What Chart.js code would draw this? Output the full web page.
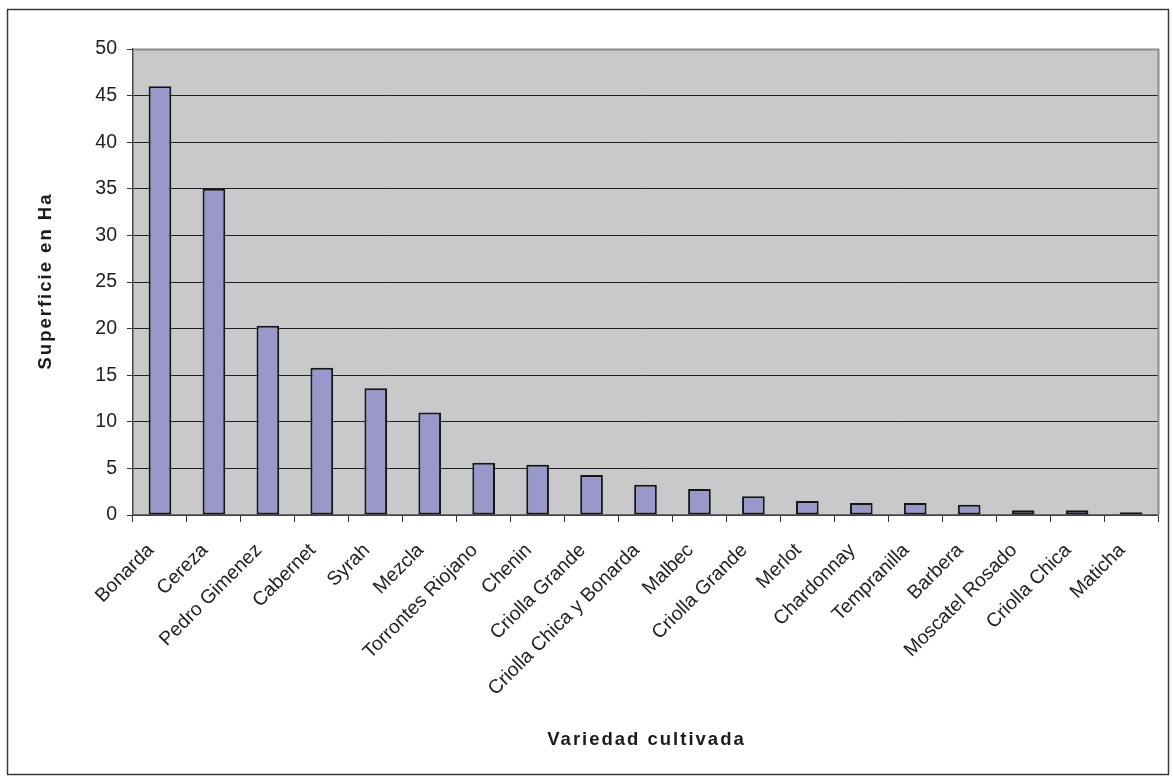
<!DOCTYPE html>
<html lang="es">
<head>
<meta charset="utf-8">
<title>Superficie por variedad cultivada</title>
<script src="https://cdn.jsdelivr.net/npm/chart.js@4/dist/chart.umd.min.js"></script>
<style>
  html, body { margin: 0; padding: 0; background: #ffffff; }
  #wrap { position: relative; width: 1173px; height: 780px; }
</style>
</head>
<body>
<div id="wrap"><canvas id="chart"></canvas></div>
<script>
// Varieties and cultivated surface (hectares)
const variedades = [
  'Bonarda', 'Cereza', 'Pedro Gimenez', 'Cabernet', 'Syrah', 'Mezcla',
  'Torrontes Riojano', 'Chenin', 'Criolla Grande', 'Criolla Chica y Bonarda',
  'Malbec', 'Criolla Grande', 'Merlot', 'Chardonnay', 'Tempranilla',
  'Barbera', 'Moscatel Rosado', 'Criolla Chica', 'Maticha'
];
const superficieHa = [
  46.0, 35.0, 20.3, 15.8, 13.6, 11.0, 5.6, 5.4, 4.3, 3.25,
  2.8, 2.0, 1.5, 1.3, 1.3, 1.1, 0.5, 0.5, 0.3
];
const yTicks = [0, 5, 10, 15, 20, 25, 30, 35, 40, 45, 50];

const tituloX = 'Variedad cultivada';
const tituloY = 'Superficie en Ha';

const FONT = '"Liberation Sans", Arial, Helvetica, sans-serif';

// Gray plot background, outer frame and spaced axis titles
const decor = {
  id: 'decor',
  beforeDraw(chart) {
    const { ctx, chartArea: a } = chart;
    ctx.save();
    ctx.fillStyle = '#c8c9cb';
    ctx.fillRect(a.left, a.top, a.right - a.left, a.bottom - a.top);
    ctx.restore();
  },
  afterDraw(chart) {
    const { ctx, chartArea: a } = chart;
    ctx.save();
    // plot frame (top / right)
    ctx.strokeStyle = '#8c8c8c';
    ctx.lineWidth = 2;
    ctx.beginPath();
    ctx.moveTo(a.left, a.top + 0.5);
    ctx.lineTo(a.right + 0.5, a.top + 0.5);
    ctx.lineTo(a.right + 0.5, a.bottom);
    ctx.stroke();
    // outer frame
    ctx.strokeStyle = '#3a3a3a';
    ctx.lineWidth = 1.5;
    ctx.strokeRect(7.5, 9.5, 1161, 765);
    // axis titles
    ctx.fillStyle = '#1a1a1a';
    ctx.font = 'bold 18.5px ' + FONT;
    ctx.letterSpacing = '2px';
    ctx.textAlign = 'center';
    ctx.textBaseline = 'middle';
    ctx.fillText(tituloX, (a.left + a.right) / 2 + 1, 740);
    ctx.translate(46, (a.top + a.bottom) / 2);
    ctx.rotate(-Math.PI / 2);
    ctx.fillText(tituloY, 1, 0);
    ctx.restore();
  }
};

new Chart(document.getElementById('chart'), {
  type: 'bar',
  data: {
    labels: variedades,
    datasets: [{
      label: tituloY,
      data: superficieHa,
      backgroundColor: '#9898cb',
      borderColor: '#151515',
      borderWidth: 2,
      borderSkipped: false,
      categoryPercentage: 1.0,
      barPercentage: 0.42
    }]
  },
  options: {
    responsive: true,
    maintainAspectRatio: false,
    animation: false,
    devicePixelRatio: 1,
    layout: { padding: { top: 49, right: 15, left: 0, bottom: 0 } },
    plugins: {
      legend: { display: false },
      tooltip: { enabled: false }
    },
    scales: {
      x: {
        offset: true,
        grid: {
          offset: true,
          drawOnChartArea: false,
          drawTicks: true,
          tickLength: 7,
          tickColor: '#333333',
          tickWidth: 1
        },
        border: { display: true, color: '#666666', width: 1.5 },
        ticks: {
          autoSkip: false,
          minRotation: 45,
          maxRotation: 45,
          padding: 17,
          labelOffset: -9,
          color: '#1e1e1e',
          font: { family: FONT, size: 19.5 }
        },
        afterFit(scale) { scale.height = 265; }
      },
      y: {
        min: 0,
        max: 50,
        afterBuildTicks(scale) { scale.ticks = yTicks.map(v => ({ value: v })); },
        grid: {
          color: '#1f1f1f',
          lineWidth: 1,
          drawTicks: true,
          tickLength: 6,
          tickColor: '#333333'
        },
        border: { display: true, color: '#444444', width: 1.5 },
        ticks: {
          padding: 10,
          color: '#1e1e1e',
          font: { family: FONT, size: 19.5 }
        },
        afterFit(scale) { scale.width = 133; }
      }
    }
  },
  plugins: [decor]
});
</script>
</body>
</html>
